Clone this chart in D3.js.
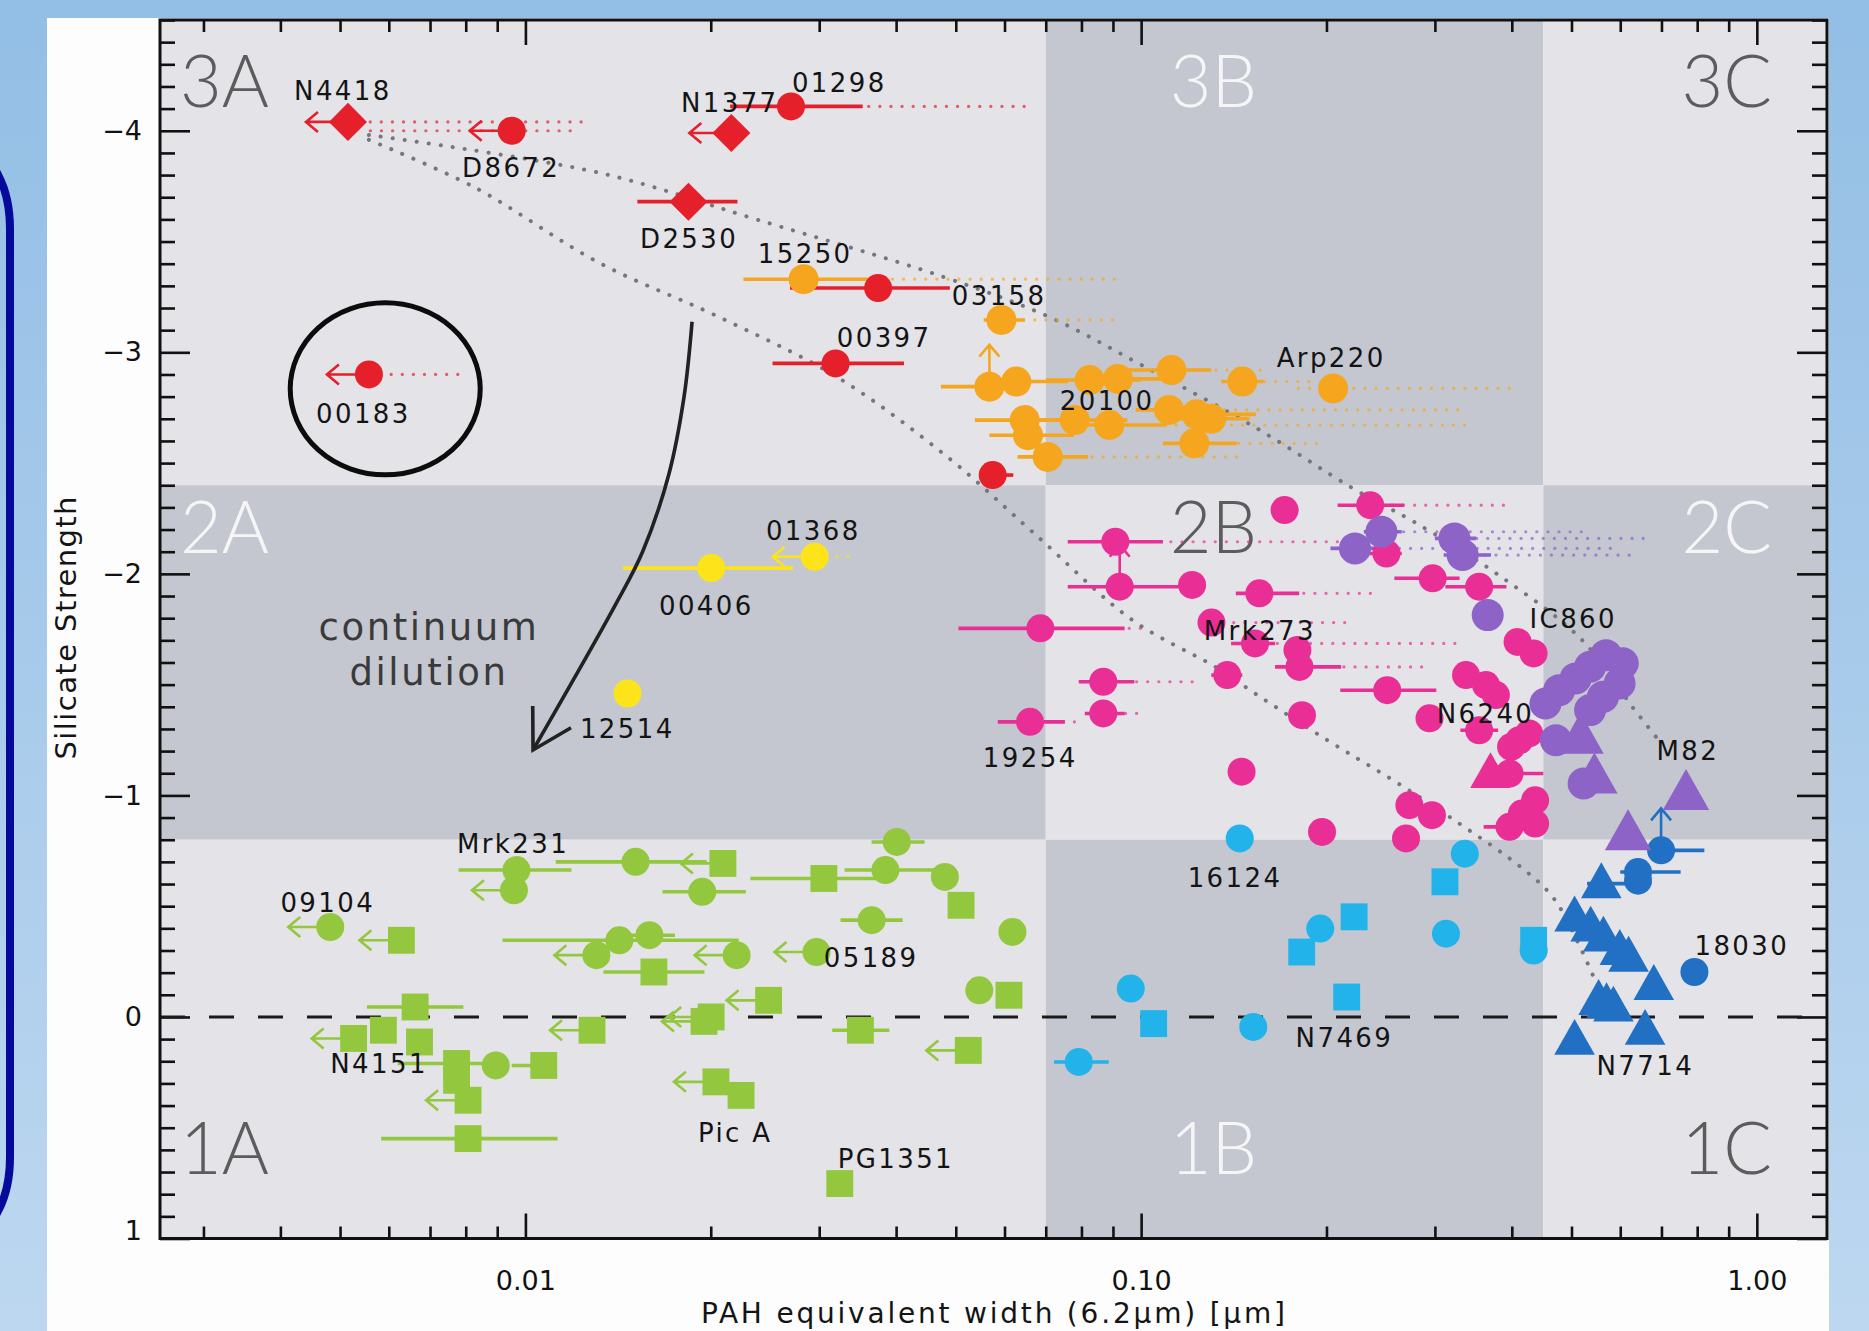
<!DOCTYPE html>
<html>
<head>
<meta charset="utf-8">
<script src="https://cdn.jsdelivr.net/npm/d3@7"></script>
<style>
  html, body { margin: 0; padding: 0; background: #a6c8ea; }
  svg { display: block; }
</style>
</head>
<body>
<svg id="chart" width="1869" height="1331"></svg>
<script>
// ---------------------------------------------------------------
// Silicate strength vs. 6.2um PAH equivalent width ("fork" diagram)
// ---------------------------------------------------------------

// axis ranges and tick values
const xDomain = [0.00255, 1.3];
const yDomain = [-4.5, 1];
const xMajorTicks = [0.01, 0.1, 1];
const xTickLabels = ["0.01", "0.10", "1.00"];
const yMajorTicks = [-4, -3, -2, -1, 0, 1];

// class boundaries (EW split and strength split)
const classX = [0.00255, 0.07, 0.45, 1.3];
const classY = [-4.5, -2.4, -0.8, 1];
const classRows = ["3", "2", "1"];
const classCols = ["A", "B", "C"];

// sources: x = PAH EW, y = silicate strength, m = marker (c circle, s square, d diamond, t triangle)
// lo/hi = solid EW range, dlo/dhi = dotted EW range, lim = L (upper limit) / U (arrow up)
const redPts = [
  {x:0.00515, y:-4.04, m:'d', lim:'L', dhi:0.0128},
  {x:0.0095,  y:-4.00, m:'c', lim:'L', dlo:0.0056, dhi:0.0123},
  {x:0.0216,  y:-3.99, m:'d', lim:'L'},
  {x:0.0270,  y:-4.11, m:'c', lo:0.0215, hi:0.0353, dhi:0.067},
  {x:0.0184,  y:-3.68, m:'d', lo:0.0152, hi:0.0221},
  {x:0.0374,  y:-3.29, m:'c', lo:0.0269, hi:0.0489},
  {x:0.0319,  y:-2.95, m:'c', lo:0.0252, hi:0.0412},
  {x:0.00557, y:-2.90, m:'c', lim:'L', dhi:0.00783},
  {x:0.0574,  y:-2.446, m:'c', lo:0.0560, hi:0.0620}
];

const orangePts = [
  {x:0.0283, y:-3.33,  m:'c', lo:0.0226, hi:0.0376, dhi:0.0912},
  {x:0.0593, y:-3.146, m:'c', lo:0.0555, hi:0.0647, dhi:0.0912},
  {x:0.0567, y:-2.845, m:'c', lo:0.0473, hi:0.0650, lim:'U'},
  {x:0.0627, y:-2.868, m:'c', lo:0.0540, hi:0.0760},
  {x:0.0825, y:-2.875, m:'c', lo:0.0700, hi:0.1000},
  {x:0.0917, y:-2.880, m:'c', lo:0.0780, hi:0.1100},
  {x:0.1120, y:-2.920, m:'c', lo:0.0950, hi:0.1300, dhi:0.1616},
  {x:0.1460, y:-2.868, m:'c', lo:0.1350, hi:0.1580, dhi:0.1930},
  {x:0.2050, y:-2.837, m:'c', dlo:0.1800, dhi:0.4110},
  {x:0.0647, y:-2.694, m:'c', lo:0.0537, hi:0.0800},
  {x:0.0780, y:-2.694, m:'c', lo:0.0680, hi:0.0950},
  {x:0.0888, y:-2.672, m:'c', lo:0.0750, hi:0.1100, dhi:0.3450},
  {x:0.1110, y:-2.740, m:'c', lo:0.0980, hi:0.1250, dhi:0.3290},
  {x:0.1230, y:-2.720, m:'c', lo:0.1080, hi:0.1536},
  {x:0.1300, y:-2.700, m:'c', lo:0.1150, hi:0.1500},
  {x:0.0655, y:-2.626, m:'c', lo:0.0567, hi:0.0777},
  {x:0.1220, y:-2.589, m:'c', lo:0.1085, hi:0.1430, dhi:0.1996},
  {x:0.0705, y:-2.528, m:'c', lo:0.0630, hi:0.0820, dhi:0.1440}
];

const yellowPts = [
  {x:0.02004, y:-2.026, m:'c', lo:0.0144, hi:0.0272},
  {x:0.0295,  y:-2.077, m:'c', lim:'L', dhi:0.0345},
  {x:0.01465, y:-1.46,  m:'c'}
];

const pinkPts = [
  {x:0.0908, y:-2.145, m:'c', lo:0.0760, hi:0.1085, dhi:0.2107},
  {x:0.0923, y:-1.942, m:'c', lo:0.0760, hi:0.1170, lim:'U'},
  {x:0.1210, y:-1.950, m:'c'},
  {x:0.0686, y:-1.754, m:'c', lo:0.0505, hi:0.0940, dhi:0.1000},
  {x:0.0868, y:-1.513, m:'c', lo:0.0792, hi:0.0975, dhi:0.1220},
  {x:0.0868, y:-1.370, m:'c', lo:0.0810, hi:0.0940, dhi:0.1020},
  {x:0.0660, y:-1.332, m:'c', lo:0.0585, hi:0.0752, dhi:0.0800},
  {x:0.1710, y:-2.288, m:'c', lo:0.1630, hi:0.1800},
  {x:0.2355, y:-2.310, m:'c', lo:0.2085, hi:0.2673, dhi:0.3926},
  {x:0.2503, y:-2.092, m:'c', lo:0.2350, hi:0.2650},
  {x:0.2975, y:-1.980, m:'c', lo:0.2578, hi:0.3290},
  {x:0.3540, y:-1.942, m:'c', lo:0.3120, hi:0.3920},
  {x:0.1556, y:-1.912, m:'c', lo:0.1425, hi:0.1806, dhi:0.2390},
  {x:0.1301, y:-1.780, m:'c', dhi:0.2200},
  {x:0.1531, y:-1.686, m:'c', lo:0.1400, hi:0.1650, dhi:0.3327},
  {x:0.1794, y:-1.656, m:'c'},
  {x:0.1808, y:-1.580, m:'c', lo:0.1650, hi:0.2113, dhi:0.2970},
  {x:0.1380, y:-1.543, m:'c', lo:0.1300, hi:0.1460},
  {x:0.2510, y:-1.475, m:'c', lo:0.2106, hi:0.3016},
  {x:0.4087, y:-1.693, m:'c'},
  {x:0.4339, y:-1.641, m:'c'},
  {x:0.3370, y:-1.543, m:'c'},
  {x:0.3632, y:-1.498, m:'c'},
  {x:0.3769, y:-1.453, m:'c'},
  {x:0.1825, y:-1.362, m:'c'},
  {x:0.2940, y:-1.348, m:'c', lo:0.2830, hi:0.3070},
  {x:0.3540, y:-1.294, m:'c', lo:0.3300, hi:0.3800},
  {x:0.4113, y:-1.249, m:'c'},
  {x:0.4267, y:-1.280, m:'c'},
  {x:0.3989, y:-1.219, m:'c'},
  {x:0.3693, y:-1.099, m:'t'},
  {x:0.3966, y:-1.099, m:'c', lo:0.3600, hi:0.4500},
  {x:0.1456, y:-1.107, m:'c'},
  {x:0.2727, y:-0.956, m:'c'},
  {x:0.2967, y:-0.911, m:'c'},
  {x:0.1967, y:-0.835, m:'c'},
  {x:0.2693, y:-0.806, m:'c'},
  {x:0.4364, y:-0.978, m:'c'},
  {x:0.4153, y:-0.918, m:'c'},
  {x:0.3966, y:-0.858, m:'c', lo:0.3600, hi:0.4200},
  {x:0.4364, y:-0.873, m:'c'}
];

const purplePts = [
  {x:0.2225, y:-2.115, m:'c', lo:0.203, hi:0.250, dhi:0.5905},
  {x:0.2456, y:-2.190, m:'c', lo:0.230, hi:0.265, dhi:0.5200},
  {x:0.3227, y:-2.160, m:'c', lo:0.300, hi:0.350, dhi:0.6560},
  {x:0.3328, y:-2.085, m:'c', lo:0.310, hi:0.370, dhi:0.6440},
  {x:0.3655, y:-1.814, m:'c'},
  {x:0.5690, y:-1.633, m:'c'},
  {x:0.5360, y:-1.581, m:'c'},
  {x:0.5077, y:-1.528, m:'c'},
  {x:0.4775, y:-1.475, m:'c'},
  {x:0.4536, y:-1.415, m:'c'},
  {x:0.5985, y:-1.505, m:'c'},
  {x:0.5625, y:-1.445, m:'c'},
  {x:0.5360, y:-1.385, m:'c'},
  {x:0.6057, y:-1.596, m:'c'},
  {x:0.4717, y:-1.249, m:'c'},
  {x:0.5232, y:-1.054, m:'c'},
  {x:0.5172, y:-1.264, m:'t'},
  {x:0.5447, y:-1.084, m:'t'},
  {x:0.7673, y:-1.009, m:'t'},
  {x:0.6178, y:-0.828, m:'t'}
];

const cyanPts = [
  {x:0.1446, y:-0.806, m:'c'},
  {x:0.3355, y:-0.737, m:'c'},
  {x:0.3115, y:-0.610, m:'s'},
  {x:0.3127, y:-0.376, m:'c'},
  {x:0.4340, y:-0.346, m:'s'},
  {x:0.4340, y:-0.300, m:'c'},
  {x:0.2218, y:-0.452, m:'s'},
  {x:0.1954, y:-0.399, m:'c'},
  {x:0.1823, y:-0.293, m:'s'},
  {x:0.2157, y:-0.090, m:'s'},
  {x:0.1521, y:0.045,  m:'c'},
  {x:0.0962, y:-0.128, m:'c'},
  {x:0.1048, y:0.030,  m:'s'},
  {x:0.0792, y:0.203,  m:'c', lo:0.0722, hi:0.0886}
];

const bluePts = [
  {x:0.6990, y:-0.752, m:'c', lo:0.6735, hi:0.8217, lim:'U'},
  {x:0.6412, y:-0.654, m:'c', lo:0.6000, hi:0.7520},
  {x:0.6412, y:-0.615, m:'c'},
  {x:0.5590, y:-0.602, m:'t', lo:0.5300, hi:0.6400},
  {x:0.5058, y:-0.452, m:'t'},
  {x:0.5372, y:-0.406, m:'t'},
  {x:0.5634, y:-0.361, m:'t'},
  {x:0.5990, y:-0.301, m:'t'},
  {x:0.6190, y:-0.270, m:'t'},
  {x:0.7918, y:-0.203, m:'c'},
  {x:0.6802, y:-0.143, m:'t'},
  {x:0.5534, y:-0.075, m:'t'},
  {x:0.5700, y:-0.060, m:'t'},
  {x:0.5849, y:-0.045, m:'t'},
  {x:0.6584, y:0.060,  m:'t'},
  {x:0.5058, y:0.105,  m:'t'}
];

const greenPts = [
  {x:0.00967, y:-0.663, m:'c', lo:0.00779, hi:0.01188},
  {x:0.00958, y:-0.572, m:'c', lim:'L'},
  {x:0.01510, y:-0.700, m:'c', lo:0.0112, hi:0.0197},
  {x:0.02093, y:-0.693, m:'s', lim:'L'},
  {x:0.01937, y:-0.565, m:'c', lo:0.0167, hi:0.0228},
  {x:0.03053, y:-0.625, m:'s', lo:0.0232, hi:0.0372},
  {x:0.03843, y:-0.663, m:'c', lo:0.0330, hi:0.0470},
  {x:0.04010, y:-0.790, m:'c', lo:0.0365, hi:0.0445},
  {x:0.04800, y:-0.632, m:'c'},
  {x:0.05100, y:-0.504, m:'s'},
  {x:0.03650, y:-0.437, m:'c', lo:0.0325, hi:0.0410},
  {x:0.00482, y:-0.406, m:'c', lim:'L'},
  {x:0.00629, y:-0.346, m:'s', lim:'L'},
  {x:0.01421, y:-0.346, m:'c', lo:0.00918, hi:0.0222},
  {x:0.01590, y:-0.369, m:'c', lo:0.0145, hi:0.0175},
  {x:0.01304, y:-0.279, m:'c', lim:'L'},
  {x:0.02203, y:-0.279, m:'c', lim:'L'},
  {x:0.01617, y:-0.203, m:'s', lo:0.01339, hi:0.01953},
  {x:0.02970, y:-0.293, m:'c', lim:'L'},
  {x:0.02483, y:-0.075, m:'s', lim:'L'},
  {x:0.02003, y:0.000,  m:'s', lim:'L'},
  {x:0.01950, y:0.020,  m:'s', lim:'L'},
  {x:0.01283, y:0.060,  m:'s', lim:'L'},
  {x:0.03500, y:0.060,  m:'s', lo:0.0315, hi:0.0390},
  {x:0.05240, y:0.151,  m:'s', lim:'L'},
  {x:0.00662, y:-0.045, m:'s', lo:0.00553, hi:0.00793},
  {x:0.00526, y:0.097,  m:'s', lim:'L'},
  {x:0.00588, y:0.060,  m:'s'},
  {x:0.00673, y:0.113,  m:'s'},
  {x:0.00773, y:0.210,  m:'s', lo:0.0062, hi:0.0088},
  {x:0.00895, y:0.219,  m:'c'},
  {x:0.01071, y:0.219,  m:'s', lo:0.0095, hi:0.0110},
  {x:0.00773, y:0.286,  m:'s'},
  {x:0.00807, y:0.376,  m:'s', lim:'L'},
  {x:0.00807, y:0.549,  m:'s', lo:0.00583, hi:0.01128},
  {x:0.02039, y:0.293,  m:'s', lim:'L'},
  {x:0.02240, y:0.354,  m:'s'},
  {x:0.03240, y:0.752,  m:'s'},
  {x:0.05460, y:-0.120, m:'c'},
  {x:0.06100, y:-0.098, m:'s'},
  {x:0.06180, y:-0.384, m:'c'}
];

// source names, anchored at the start of their baseline (EW, strength)
const pointLabels = [
  ["N4418", 0.00421, -4.14], ["D8672", 0.00789, -3.792], ["00183", 0.00457, -2.682],
  ["N1377", 0.01789, -4.086], ["01298", 0.02709, -4.176], ["D2530", 0.01535, -3.472],
  ["15250", 0.02385, -3.404], ["03158", 0.04926, -3.214], ["00397", 0.03204, -3.025],
  ["20100", 0.07378, -2.74],  ["Arp220", 0.166, -2.935], ["01368", 0.02458, -2.153],
  ["00406", 0.01648, -1.815], ["12514", 0.01226, -1.26],  ["19254", 0.05533, -1.129],
  ["Mrk273", 0.1264, -1.702], ["N6240", 0.302, -1.327],  ["IC860", 0.4274, -1.756],
  ["M82", 0.6871, -1.16],     ["16124", 0.119, -0.587],  ["N7469", 0.1782, 0.135],
  ["N7714", 0.549, 0.262],    ["18030", 0.7919, -0.28],  ["Mrk231", 0.00774, -0.74],
  ["09104", 0.0040, -0.474],  ["05189", 0.03052, -0.226], ["N4151", 0.00482, 0.253],
  ["Pic A", 0.01906, 0.564],  ["PG1351", 0.03215, 0.682]
];

// dotted mixing tracks from the deepest absorber towards the starburst and AGN ends
const upperTrack = [
  [0.00557,-3.981],[0.0132,-3.81],[0.02384,-3.598],[0.0478,-3.34],[0.0710,-3.159],
  [0.1001,-2.943],[0.1528,-2.663],[0.2205,-2.387],[0.2797,-2.229],[0.3842,-1.987],
  [0.5203,-1.701],[0.6277,-1.40],[0.686,-1.264]
];
const lowerTrack = [
  [0.00557,-3.959],[0.00824,-3.747],[0.0132,-3.403],[0.02056,-3.161],[0.0320,-2.89],
  [0.0484,-2.529],[0.0670,-2.183],[0.0968,-1.791],[0.132,-1.58],[0.1531,-1.46],
  [0.2007,-1.249],[0.2563,-1.069],[0.3226,-0.888],[0.4165,-0.67],[0.466,-0.542],
  [0.5056,-0.369],[0.555,-0.12]
];

// continuum-dilution arrow and the highlighted source
const dilutionArrow = [[0.01865,-3.138],[0.0181,-2.80],[0.0171,-2.45],[0.0155,-2.10],[0.0140,-1.86],[0.01029,-1.205]];
const highlight = [0.00592, -2.835];

// ---------------------------------------------------------------
const W = 1869, H = 1331;
const plot = {left: 160, right: 1827, top: 20, bottom: 1238.5};
const x = d3.scaleLog().domain(xDomain).range([plot.left, plot.right]);
const y = d3.scaleLinear().domain(yDomain).range([plot.top, plot.bottom]);

const labelFont = "'DejaVu Sans', 'Liberation Sans', sans-serif";
const svg = d3.select("#chart");
const defs = svg.append("defs");

// page background
const grad = defs.append("linearGradient").attr("id", "bg")
  .attr("x1", 0).attr("y1", 0).attr("x2", 0).attr("y2", 1);
grad.append("stop").attr("offset", "0%").attr("stop-color", "#93bee5");
grad.append("stop").attr("offset", "100%").attr("stop-color", "#bdd7f0");
svg.append("rect").attr("width", W).attr("height", H).attr("fill", "url(#bg)");

// navy rounded outline at the left edge
svg.append("rect").attr("x", -70).attr("y", 153).attr("width", 80).attr("height", 1080)
  .attr("rx", 40).attr("ry", 76).attr("fill", "none")
  .attr("stroke", "#07099a").attr("stroke-width", 8);

// white figure panel
svg.append("rect").attr("x", 47).attr("y", 18).attr("width", 1829 - 47).attr("height", H - 18)
  .attr("fill", "#fdfdfd");

// class zones
const zones = [];
classRows.forEach((r, ri) => classCols.forEach((c, ci) => {
  zones.push({name: r + c, ri, ci,
    x0: classX[ci], x1: classX[ci + 1], y0: classY[ri], y1: classY[ri + 1],
    dark: (ri + ci) % 2 === 1});
}));
const gZones = svg.append("g");
gZones.selectAll("rect").data(zones).join("rect")
  .attr("x", d => x(d.x0)).attr("y", d => y(d.y0))
  .attr("width", d => x(d.x1) - x(d.x0)).attr("height", d => y(d.y1) - y(d.y0))
  .attr("fill", d => d.dark ? "#c4c7cf" : "#e3e3e8");

gZones.selectAll("text").data(zones).join("text")
  .attr("x", d => d.ci === 0 ? x(d.x0) + 20 : d.ci === 1 ? x(d.x0) + 124 : x(d.x1) - 55)
  .attr("y", d => d.ri === 0 ? y(d.y0) + 87 : d.ri === 1 ? y(d.y0) + 68 : y(d.y1) - 65)
  .attr("text-anchor", d => d.ci === 2 ? "end" : "start")
  .attr("font-family", "Lato, 'DejaVu Sans', sans-serif")
  .attr("font-weight", 300)
  .attr("font-size", 72)
  .attr("fill", d => d.dark ? "#f6f6f6" : "#5c5c5c")
  .text(d => d.name);

// axes: ticks point inwards on all four sides
const xMinor = [];
[0.001, 0.01, 0.1].forEach(dec => { for (let k = 2; k <= 9; k++) { const v = dec * k; if (v >= xDomain[0] && v <= xDomain[1]) xMinor.push(v); } });
const yMinor = d3.range(-45, 11).map(v => v / 10).filter(v => Math.abs(v - Math.round(v)) > 1e-6);

function styleAxis(g) {
  g.select(".domain").remove();
  g.selectAll(".tick line").attr("stroke", "#111").attr("stroke-width", 2.6);
  g.selectAll(".tick text").attr("font-family", labelFont).attr("font-size", 27).attr("fill", "#111");
}
const gAxes = svg.append("g");
gAxes.append("g").attr("transform", `translate(0,${plot.bottom})`)
  .call(d3.axisBottom(x).tickValues(xMajorTicks).tickSize(-25).tickPadding(32)
    .tickFormat((d, i) => xTickLabels[i])).call(styleAxis);
gAxes.append("g").attr("transform", `translate(0,${plot.bottom})`)
  .call(d3.axisBottom(x).tickValues(xMinor).tickSize(-12).tickFormat("")).call(styleAxis);
gAxes.append("g").attr("transform", `translate(0,${plot.top})`)
  .call(d3.axisTop(x).tickValues(xMajorTicks).tickSize(-25).tickFormat("")).call(styleAxis);
gAxes.append("g").attr("transform", `translate(0,${plot.top})`)
  .call(d3.axisTop(x).tickValues(xMinor).tickSize(-12).tickFormat("")).call(styleAxis);
const yLeft = gAxes.append("g").attr("transform", `translate(${plot.left},0)`)
  .call(d3.axisLeft(y).tickValues(yMajorTicks).tickSize(-30).tickPadding(18)
    .tickFormat(d => d < 0 ? "\u2212" + Math.abs(d) : String(d))).call(styleAxis);
// the bottom label sits just above the corner
yLeft.selectAll(".tick text").filter(d => d === 1).attr("dy", "0.02em");
gAxes.append("g").attr("transform", `translate(${plot.left},0)`)
  .call(d3.axisLeft(y).tickValues(yMinor).tickSize(-15).tickFormat("")).call(styleAxis);
gAxes.append("g").attr("transform", `translate(${plot.right},0)`)
  .call(d3.axisRight(y).tickValues(yMajorTicks).tickSize(-30).tickFormat("")).call(styleAxis);
gAxes.append("g").attr("transform", `translate(${plot.right},0)`)
  .call(d3.axisRight(y).tickValues(yMinor).tickSize(-15).tickFormat("")).call(styleAxis);

// zero-strength reference
svg.append("line").attr("x1", plot.left).attr("x2", plot.right)
  .attr("y1", y(0)).attr("y2", y(0))
  .attr("stroke", "#1a1a1a").attr("stroke-width", 3).attr("stroke-dasharray", "25,24");

// mixing tracks
const trackLine = d3.line().x(d => x(d[0])).y(d => y(d[1])).curve(d3.curveCatmullRom);
[upperTrack, lowerTrack].forEach(t => {
  svg.append("path").attr("d", trackLine(t)).attr("fill", "none")
    .attr("stroke", "#76767c").attr("stroke-width", 4)
    .attr("stroke-linecap", "round").attr("stroke-dasharray", "0.1,12");
});

// groups of sources
const groups = [
  {pts: greenPts,  color: "#93c83e", r: 14},
  {pts: cyanPts,   color: "#22b3ea", r: 14},
  {pts: bluePts,   color: "#2270c4", r: 14},
  {pts: yellowPts, color: "#fde41a", r: 14},
  {pts: orangePts, color: "#f6a61e", r: 15},
  {pts: redPts,    color: "#e5202b", r: 14},
  {pts: pinkPts,   color: "#e92f96", r: 14},
  {pts: purplePts, color: "#8d63c8", r: 16}
];

const gDots = svg.append("g"), gBars = svg.append("g"), gArrows = svg.append("g"), gMarks = svg.append("g");

function markerPath(m, r) {
  if (m === 's') { const h = r * 0.96; return `M${-h},${-h}H${h}V${h}H${-h}Z`; }
  if (m === 'd') { const h = r * 1.36; return `M0,${-h}L${h},0L0,${h}L${-h},0Z`; }
  if (m === 't') { const h = r * 1.45; return `M0,${-h * 1.05}L${h},${h * 0.72}L${-h},${h * 0.72}Z`; }
  return d3.symbol(d3.symbolCircle, Math.PI * r * r)();
}

groups.forEach(g => {
  g.pts.forEach(p => {
    const cx = x(p.x), cy = y(p.y);
    if (p.dlo !== undefined || p.dhi !== undefined) {
      const a = p.dlo !== undefined ? p.dlo : p.x, b = p.dhi !== undefined ? p.dhi : p.x;
      gDots.append("line").attr("x1", x(a)).attr("x2", x(b)).attr("y1", cy).attr("y2", cy)
        .attr("stroke", g.color).attr("stroke-opacity", 0.7).attr("stroke-width", 3.2)
        .attr("stroke-linecap", "round").attr("stroke-dasharray", "0.1,11");
    }
    if (p.lo !== undefined) {
      gBars.append("line").attr("x1", x(p.lo)).attr("x2", x(p.hi)).attr("y1", cy).attr("y2", cy)
        .attr("stroke", g.color).attr("stroke-width", 3.6);
    }
    if (p.lim === 'L') {
      const tx = cx - 42;
      gArrows.append("path")
        .attr("d", `M${cx},${cy}H${tx}M${tx + 12},${cy - 10}L${tx},${cy}L${tx + 12},${cy + 10}`)
        .attr("fill", "none").attr("stroke", g.color).attr("stroke-width", 2.6);
    }
    if (p.lim === 'U') {
      const ty = cy - 42;
      gArrows.append("path")
        .attr("d", `M${cx},${cy}V${ty}M${cx - 10},${ty + 12}L${cx},${ty}L${cx + 10},${ty + 12}`)
        .attr("fill", "none").attr("stroke", g.color).attr("stroke-width", 2.6);
    }
  });
  gMarks.append("g").selectAll("path").data(g.pts).join("path")
    .attr("transform", d => `translate(${x(d.x)},${y(d.y)})`)
    .attr("d", d => markerPath(d.m, g.r))
    .attr("fill", g.color);
});

// plot frame
svg.append("rect").attr("x", plot.left).attr("y", plot.top)
  .attr("width", plot.right - plot.left).attr("height", plot.bottom - plot.top)
  .attr("fill", "none").attr("stroke", "#111").attr("stroke-width", 3);

// source names
svg.append("g").selectAll("text").data(pointLabels).join("text")
  .attr("x", d => x(d[1])).attr("y", d => y(d[2]))
  .attr("font-family", labelFont).attr("font-size", 26).attr("letter-spacing", 2.4)
  .attr("fill", "#141414").text(d => d[0]);

// ring around 00183
svg.append("ellipse").attr("cx", x(highlight[0])).attr("cy", y(highlight[1]))
  .attr("rx", 95).attr("ry", 86).attr("fill", "none")
  .attr("stroke", "#0c0c0c").attr("stroke-width", 5);

// continuum dilution arrow
const arrowLine = d3.line().x(d => x(d[0])).y(d => y(d[1])).curve(d3.curveCatmullRom);
svg.append("path").attr("d", arrowLine(dilutionArrow)).attr("fill", "none")
  .attr("stroke", "#222").attr("stroke-width", 3.6);
{
  const tip = dilutionArrow[dilutionArrow.length - 1], prev = dilutionArrow[dilutionArrow.length - 2];
  const tx = x(tip[0]), ty = y(tip[1]);
  const ang = Math.atan2(y(prev[1]) - ty, x(prev[0]) - tx);
  const L = 44, s = Math.PI / 6;
  svg.append("path")
    .attr("d", `M${tx + L * Math.cos(ang - s)},${ty + L * Math.sin(ang - s)}L${tx},${ty}L${tx + L * Math.cos(ang + s)},${ty + L * Math.sin(ang + s)}`)
    .attr("fill", "none").attr("stroke", "#222").attr("stroke-width", 3.6);
}
const note = svg.append("text").attr("text-anchor", "middle")
  .attr("font-family", labelFont).attr("font-size", 37).attr("letter-spacing", 2.6)
  .attr("fill", "#3a3a3a");
note.append("tspan").attr("x", 429).attr("y", 640).text("continuum");
note.append("tspan").attr("x", 429).attr("y", 685).text("dilution");

// axis titles
svg.append("text").attr("x", 993).attr("y", 1323).attr("text-anchor", "middle")
  .attr("font-family", labelFont).attr("font-size", 28).attr("fill", "#141414")
  .attr("textLength", 584).attr("lengthAdjust", "spacing")
  .text("PAH equivalent width (6.2\u03bcm) [\u03bcm]");
svg.append("text").attr("transform", "translate(76,628) rotate(-90)").attr("text-anchor", "middle")
  .attr("font-family", labelFont).attr("font-size", 29).attr("fill", "#141414")
  .attr("textLength", 263).attr("lengthAdjust", "spacing")
  .text("Silicate Strength");
</script>
</body>
</html>
